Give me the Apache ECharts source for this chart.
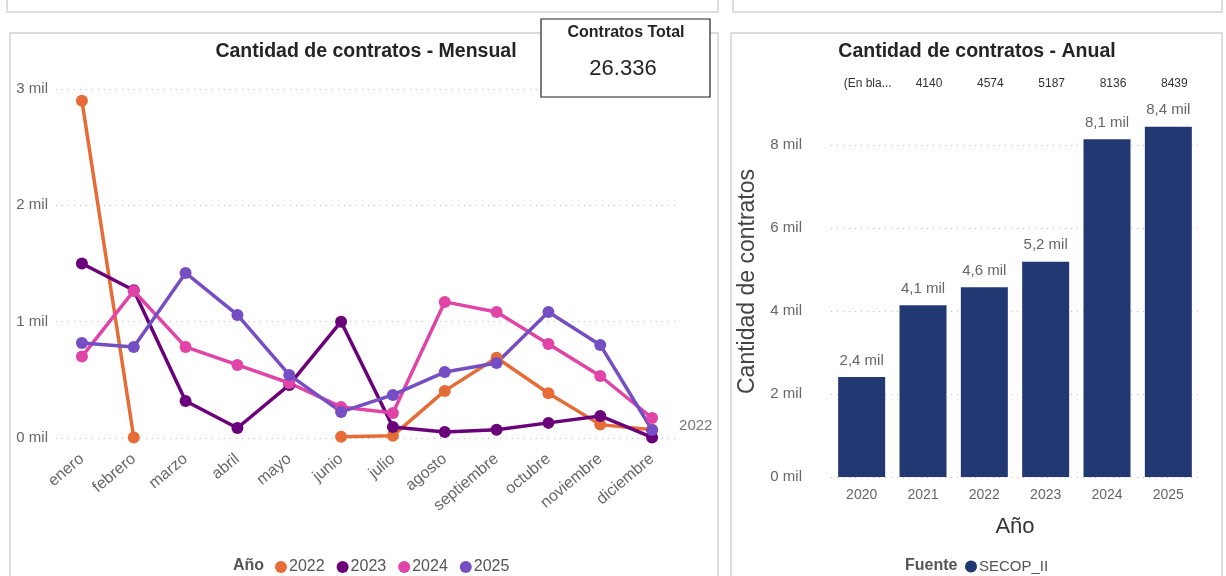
<!DOCTYPE html>
<html>
<head>
<meta charset="utf-8">
<script src="https://cdn.jsdelivr.net/npm/echarts@6/dist/echarts.min.js"></script>
<style>
html,body{margin:0;padding:0;background:#fff;}
#c{width:1226px;height:576px;}
</style>
</head>
<body>
<div id="c"></div>
<script>
const months = ['enero','febrero','marzo','abril','mayo','junio','julio','agosto','septiembre','octubre','noviembre','diciembre'];
const s2022 = [2900, 5, null, null, null, 10, 20, 405, 690, 385, 115, 70];
const s2023 = [1500, 1270, 318, 86, 456, 1000, 95, 52, 70, 130, 190, 5];
const s2024 = [700, 1264, 783, 628, 473, 267, 215, 1170, 1083, 808, 533, 172];
const s2025 = [817, 783, 1419, 1058, 542, 224, 370, 567, 645, 1083, 800, 69];
const seriesNames = ['2022','2023','2024','2025'];
const years = ['2020','2021','2022','2023','2024','2025'];
const annual = [2410, 4140, 4574, 5187, 8136, 8439];
const topLabels = ['(En bla...', '4140', '4574', '5187', '8136', '8439'];
const kpiTitle = 'Contratos Total';
const kpiValue = '26.336';

const FONT = "'Liberation Sans', Arial, sans-serif";
const colors = ['#E66C37','#6B007B','#E044A7','#744EC2'];
const milFmt = v => (v/1000) + ' mil';
const chart = echarts.init(document.getElementById('c'));

const lineData = [s2022, s2023, s2024, s2025];
const lineSeries = lineData.map((d, i) => ({
  name: seriesNames[i], type: 'line', xAxisIndex: 0, yAxisIndex: 0,
  data: d, symbol: 'circle', symbolSize: 12, connectNulls: false,
  lineStyle: {width: 3.5, color: colors[i]}, itemStyle: {color: colors[i]},
  emphasis: {disabled: true},
  endLabel: i === 0 ? {show: true, formatter: '2022', color: '#777', fontSize: 15, fontFamily: FONT, distance: 27, offset:[0,-4]} : {show: false}
}));

const border = '#d2d2d2';
chart.setOption({
  animation: false,
  textStyle: {fontFamily: FONT},
  graphic: [
    {type:'polyline', shape:{points:[[7,0],[7,12],[718,12],[718,0]]}, style:{stroke:border, fill:null, lineWidth:1.5}},
    {type:'polyline', shape:{points:[[733,0],[733,12],[1222,12],[1222,0]]}, style:{stroke:border, fill:null, lineWidth:1.5}},
    {type:'polyline', shape:{points:[[10,576],[10,33],[718,33],[718,576]]}, style:{stroke:border, fill:null, lineWidth:1.5}},
    {type:'polyline', shape:{points:[[731,576],[731,33],[1222,33],[1222,576]]}, style:{stroke:border, fill:null, lineWidth:1.5}},
    {type:'text', x: 366, y: 52, style:{text:'Cantidad de contratos - Mensual', font:"bold 19.5px " + FONT, fill:'#252423', align:'center', verticalAlign:'middle'}},
    {type:'text', x: 977, y: 52, style:{text:'Cantidad de contratos - Anual', font:"bold 19.5px " + FONT, fill:'#252423', align:'center', verticalAlign:'middle'}},
    {type:'rect', shape:{x:541, y:19, width:169, height:78}, style:{fill:'#fff', stroke:'#222', lineWidth:1.2}, z: 10},
    {type:'text', x:626, y:33, z:11, style:{text:kpiTitle, font:"bold 16px " + FONT, fill:'#252423', align:'center', verticalAlign:'middle'}},
    {type:'text', x:623, y:69, z:11, style:{text:kpiValue, font:"22px " + FONT, fill:'#252423', align:'center', verticalAlign:'middle'}},
    {type:'text', x:233, y:566, style:{text:'Año', font:"bold 16px " + FONT, fill:'#555', verticalAlign:'middle'}},
    {type:'text', x:905, y:566, style:{text:'Fuente', font:"bold 16px " + FONT, fill:'#555', verticalAlign:'middle'}}
  ],
  legend: [
    {data: seriesNames, left: 275, top: 559, padding: 0, icon:'circle', itemWidth: 12, itemHeight: 12, itemGap: 12,
     textStyle:{fontSize:16, color:'#555', fontFamily: FONT, padding:[0,0,0,-3]}},
    {data: ['SECOP_II'], left: 965, top: 559, padding: 0, icon:'circle', itemWidth: 12, itemHeight: 12,
     textStyle:{fontSize:15, color:'#555', fontFamily: FONT, padding:[0,0,0,-3]}}
  ],
  grid: [
    {left: 56, right: 548, top: 89, bottom: 138},
    {left: 831, right: 27, top: 62, bottom: 99}
  ],
  xAxis: [
    {type:'category', gridIndex:0, data: months, boundaryGap: true,
     axisLine:{show:false}, axisTick:{show:false},
     axisLabel:{rotate: 40, color:'#666', fontSize:16, fontFamily: FONT, margin: 19, interval: 0}},
    {type:'category', gridIndex:1, data: years,
     axisLine:{show:false}, axisTick:{show:false},
     axisLabel:{color:'#666', fontSize:14, fontFamily: FONT, margin: 11},
     name:'Año', nameLocation:'middle', nameGap: 39, nameTextStyle:{fontSize:22, color:'#333', fontFamily: FONT}},
    {type:'category', gridIndex:1, data: topLabels, position:'top', offset: -28,
     axisLine:{show:false}, axisTick:{show:false},
     axisLabel:{color:'#333', fontSize:12, fontFamily: FONT, margin: 0, interval: 0, verticalAlign:'bottom', padding:[0,0,0,12]}}
  ],
  yAxis: [
    {type:'value', gridIndex:0, min:0, max:3000, interval:1000,
     axisLine:{show:false}, axisTick:{show:false},
     axisLabel:{formatter: milFmt, color:'#666', fontSize:15, fontFamily: FONT, margin: 8},
     splitLine:{lineStyle:{type:[1,5], color:'#bbb', width:1}}},
    {type:'value', gridIndex:1, min:0, max:10000, interval:2000,
     axisLine:{show:false}, axisTick:{show:false},
     axisLabel:{formatter: milFmt, color:'#666', fontSize:15, fontFamily: FONT, margin: 29, showMaxLabel:false},
     splitLine:{showMaxLine:false, lineStyle:{type:[1,5], color:'#bbb', width:1}},
     name:'Cantidad de contratos', nameLocation:'middle', nameGap: 72, nameRotate: 90,
     nameTextStyle:{fontSize:23, color:'#444', fontFamily: FONT, padding:[0,24,0,0]}}
  ],
  series: lineSeries.concat([
    {name:'SECOP_II', type:'bar', xAxisIndex:1, yAxisIndex:1, data: annual, barWidth: 47,
     itemStyle:{color:'#223873'}, emphasis:{disabled:true},
     label:{show:true, position:'top', distance: 9, color:'#666', fontSize:15, fontFamily: FONT,
       formatter: p => (p.value/1000).toFixed(1).replace('.', ',') + ' mil'}}
  ])
});
</script>
</body>
</html>
